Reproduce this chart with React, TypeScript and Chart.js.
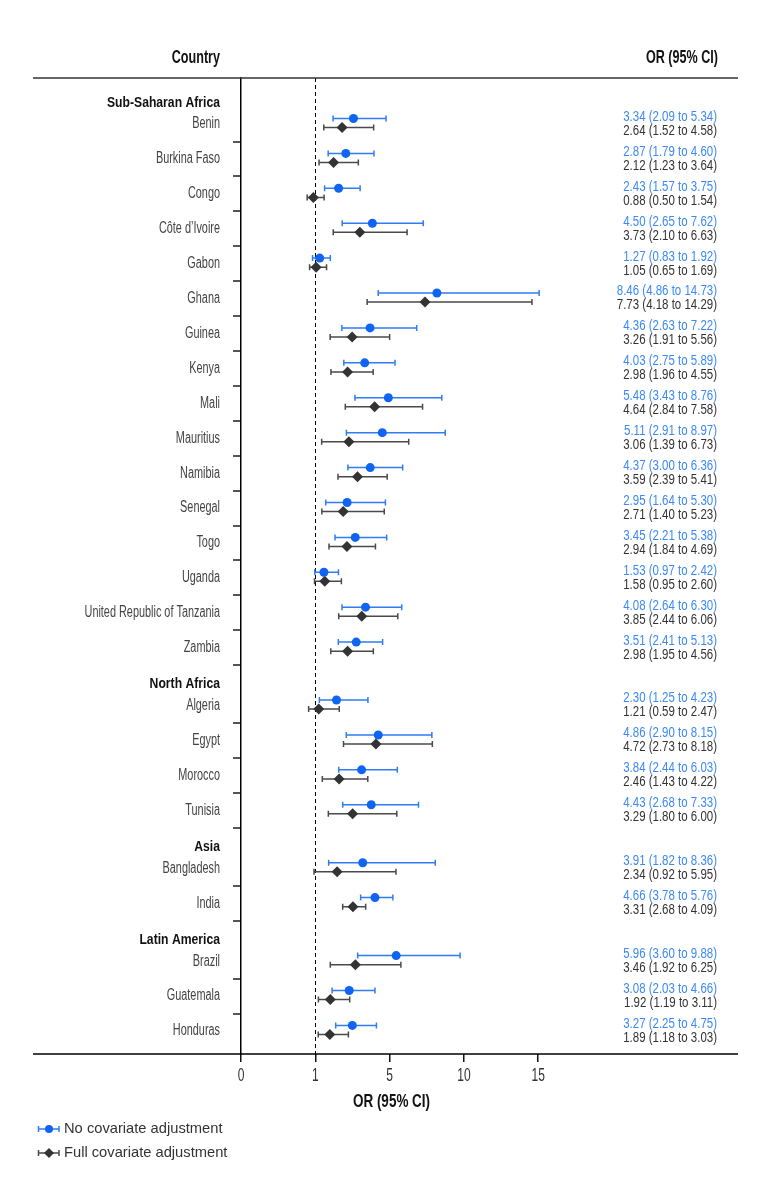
import React, { useEffect, useRef } from 'react';
import { Chart, registerables } from 'chart.js';

Chart.register(...registerables);

// ---------------- data ----------------
const regions = ['Sub-Saharan Africa', 'North Africa', 'Asia', 'Latin America'];
const regionSizes = [16, 4, 2, 3];
const countries = [
  'Benin', 'Burkina Faso', 'Congo', 'Côte d’Ivoire', 'Gabon', 'Ghana', 'Guinea', 'Kenya',
  'Mali', 'Mauritius', 'Namibia', 'Senegal', 'Togo', 'Uganda', 'United Republic of Tanzania', 'Zambia',
  'Algeria', 'Egypt', 'Morocco', 'Tunisia',
  'Bangladesh', 'India',
  'Brazil', 'Guatemala', 'Honduras',
];
const orCrude = [3.34, 2.87, 2.43, 4.50, 1.27, 8.46, 4.36, 4.03, 5.48, 5.11, 4.37, 2.95, 3.45, 1.53, 4.08, 3.51, 2.30, 4.86, 3.84, 4.43, 3.91, 4.66, 5.96, 3.08, 3.27];
const loCrude = [2.09, 1.79, 1.57, 2.65, 0.83, 4.86, 2.63, 2.75, 3.43, 2.91, 3.00, 1.64, 2.21, 0.97, 2.64, 2.41, 1.25, 2.90, 2.44, 2.68, 1.82, 3.78, 3.60, 2.03, 2.25];
const hiCrude = [5.34, 4.60, 3.75, 7.62, 1.92, 14.73, 7.22, 5.89, 8.76, 8.97, 6.36, 5.30, 5.38, 2.42, 6.30, 5.13, 4.23, 8.15, 6.03, 7.33, 8.36, 5.76, 9.88, 4.66, 4.75];
const orAdj = [2.64, 2.12, 0.88, 3.73, 1.05, 7.73, 3.26, 2.98, 4.64, 3.06, 3.59, 2.71, 2.94, 1.58, 3.85, 2.98, 1.21, 4.72, 2.46, 3.29, 2.34, 3.31, 3.46, 1.92, 1.89];
const loAdj = [1.52, 1.23, 0.50, 2.10, 0.65, 4.18, 1.91, 1.96, 2.84, 1.39, 2.39, 1.40, 1.84, 0.95, 2.44, 1.95, 0.59, 2.73, 1.43, 1.80, 0.92, 2.68, 1.92, 1.19, 1.18];
const hiAdj = [4.58, 3.64, 1.54, 6.63, 1.69, 14.29, 5.56, 4.55, 7.58, 6.73, 5.41, 5.23, 4.69, 2.60, 6.06, 4.56, 2.47, 8.18, 4.22, 6.00, 5.95, 4.09, 6.25, 3.11, 3.03];
const tickLabels = ['0', '1', '5', '10', '15'];
const seriesNames = ['No covariate adjustment', 'Full covariate adjustment'];

// ---------------- layout constants ----------------
const HEADER_UNITS = 0.66;
const PAD_UNITS = 0.16;
const TICK_STEP = 4.558; // axis labels are evenly spaced in the original
const X_MIN = 1 - TICK_STEP;
const X_MAX = 26.93;
const BLUE_OFF = -0.16;
const BLACK_OFF = 0.1;

const BLUE = '#0f64f2';
const BLUE_BAR = '#2f7cf4';
const BLUE_TEXT = '#3b8af6';
const DARK = '#333333';
const DARK_BAR = '#4a4a4a';
const LABEL = '#444444';

const SANS = "'Liberation Sans', Arial, sans-serif";

// row positions derived from region sizes
const rowCenters: number[] = [];
const boundaries: number[] = [];
const firstRowOfRegion: number[] = [];
let pos = 0;
regionSizes.forEach((n) => {
  pos += HEADER_UNITS;
  firstRowOfRegion.push(rowCenters.length);
  for (let i = 0; i < n; i++) {
    rowCenters.push(pos + 0.5);
    pos += 1;
    boundaries.push(pos);
  }
});
const TOTAL = pos;
boundaries.pop();

const fmt = (o: number, l: number, h: number) => `${o.toFixed(2)} (${l.toFixed(2)} to ${h.toFixed(2)})`;

function txt(ctx: CanvasRenderingContext2D, s: string, x: number, y: number, font: string, color: string, align: CanvasTextAlign, sx = 1) {
  ctx.save();
  ctx.font = font;
  ctx.fillStyle = color;
  ctx.textBaseline = 'middle';
  ctx.textAlign = align;
  ctx.translate(x, y);
  ctx.scale(sx, 1);
  ctx.fillText(s, 0, 0);
  ctx.restore();
}

function errBar(ctx: CanvasRenderingContext2D, x1: number, x2: number, y: number, color: string) {
  ctx.save();
  ctx.strokeStyle = color;
  ctx.lineWidth = 1.5;
  ctx.beginPath();
  ctx.moveTo(x1, y); ctx.lineTo(x2, y);
  ctx.moveTo(x1, y - 3); ctx.lineTo(x1, y + 3);
  ctx.moveTo(x2, y - 3); ctx.lineTo(x2, y + 3);
  ctx.stroke();
  ctx.restore();
}

const forestPlugin = {
  id: 'forest',
  beforeDatasetsDraw(chart: any) {
    const { ctx, chartArea: a, scales } = chart;
    const x = scales.x, y = scales.y;
    ctx.save();
    ctx.strokeStyle = '#000';
    ctx.lineWidth = 1;
    ctx.setLineDash([4, 3]);
    const xr = Math.round(x.getPixelForValue(1)) + 0.5;
    ctx.beginPath(); ctx.moveTo(xr, a.top); ctx.lineTo(xr, a.bottom); ctx.stroke();
    ctx.restore();
    rowCenters.forEach((c, i) => {
      errBar(ctx, x.getPixelForValue(loCrude[i]), x.getPixelForValue(hiCrude[i]), y.getPixelForValue(c + BLUE_OFF), BLUE_BAR);
      errBar(ctx, x.getPixelForValue(loAdj[i]), x.getPixelForValue(hiAdj[i]), y.getPixelForValue(c + BLACK_OFF), DARK_BAR);
    });
  },
  afterDraw(chart: any) {
    const { ctx, chartArea: a, scales } = chart;
    const x = scales.x, y = scales.y;
    const unit = Math.abs(y.getPixelForValue(1) - y.getPixelForValue(0));
    // horizontal rules
    ctx.save();
    ctx.lineWidth = 1.5;
    ctx.strokeStyle = '#333';
    ctx.beginPath(); ctx.moveTo(33, a.top); ctx.lineTo(a.right, a.top); ctx.stroke();
    ctx.strokeStyle = '#000';
    ctx.beginPath(); ctx.moveTo(33, a.bottom); ctx.lineTo(a.right, a.bottom); ctx.stroke();
    ctx.restore();
    // x tick labels (condensed face, placed at the axis' own ticks)
    x.ticks.forEach((t: any, i: number) => {
      txt(ctx, tickLabels[i], x.getPixelForValue(t.value), a.bottom + 22, `18.5px ${SANS}`, '#333', 'center', 0.65);
    });
    // headers
    txt(ctx, 'Country', 220, 58, `bold 18px ${SANS}`, '#111', 'right', 0.7);
    txt(ctx, 'OR (95% CI)', 718, 58, `bold 18px ${SANS}`, '#111', 'right', 0.7);
    // rows
    rowCenters.forEach((c, i) => {
      const py = y.getPixelForValue(c);
      txt(ctx, countries[i], 220, py, `16px ${SANS}`, LABEL, 'right', 0.68);
      txt(ctx, fmt(orCrude[i], loCrude[i], hiCrude[i]), 717, py - 7, `14px ${SANS}`, BLUE_TEXT, 'right', 0.82);
      txt(ctx, fmt(orAdj[i], loAdj[i], hiAdj[i]), 717, py + 7, `14px ${SANS}`, DARK, 'right', 0.82);
    });
    regions.forEach((r, k) => {
      const py = y.getPixelForValue(rowCenters[firstRowOfRegion[k]]) - 0.62 * unit;
      txt(ctx, r, 220, py, `bold 15.5px ${SANS}`, '#111', 'right', 0.786);
    });
    // axis title
    txt(ctx, 'OR (95% CI)', 391.5, 1102, `bold 19px ${SANS}`, '#111', 'center', 0.71);
    // legend
    const ly = [1129, 1153];
    ly.forEach((yy, k) => {
      const col = k === 0 ? BLUE_BAR : DARK_BAR;
      errBar(ctx, 38.5, 59, yy, col);
      ctx.save();
      ctx.fillStyle = k === 0 ? BLUE : DARK;
      ctx.beginPath();
      if (k === 0) {
        ctx.arc(49, yy, 4, 0, Math.PI * 2);
      } else {
        ctx.moveTo(49, yy - 5); ctx.lineTo(54, yy); ctx.lineTo(49, yy + 5); ctx.lineTo(44, yy);
        ctx.closePath();
      }
      ctx.fill();
      ctx.restore();
      txt(ctx, seriesNames[k], 64, yy, `15px ${SANS}`, '#333', 'left', 0.98);
    });
  },
};

export default function App() {
  const ref = useRef<HTMLCanvasElement>(null);
  useEffect(() => {
    const canvas = ref.current;
    if (!canvas) return;
    const chart = new Chart(canvas, {
      type: 'scatter',
      data: {
        datasets: [
          {
            label: seriesNames[0],
            data: orCrude.map((v, i) => ({ x: v, y: rowCenters[i] + BLUE_OFF })),
            pointStyle: 'circle',
            pointRadius: 4.5,
            backgroundColor: BLUE,
            borderColor: BLUE,
            borderWidth: 0,
          },
          {
            label: seriesNames[1],
            data: orAdj.map((v, i) => ({ x: v, y: rowCenters[i] + BLACK_OFF })),
            pointStyle: 'rectRot',
            pointRadius: 5.5,
            backgroundColor: DARK,
            borderColor: DARK,
            borderWidth: 0,
          },
        ],
      },
      options: {
        responsive: false,
        animation: false,
        devicePixelRatio: 1,
        layout: { padding: { left: 221, right: 33, top: 78, bottom: 88 } },
        plugins: { legend: { display: false }, tooltip: { enabled: false } },
        scales: {
          x: {
            type: 'linear',
            position: 'bottom',
            min: X_MIN,
            max: X_MAX,
            afterBuildTicks: (s: any) => {
              s.ticks = tickLabels.map((_, i) => ({ value: 1 + (i - 1) * TICK_STEP }));
            },
            afterFit: (s: any) => { s.height = 50; },
            ticks: { display: false, autoSkip: false, maxRotation: 0 },
            grid: { drawOnChartArea: false, drawTicks: true, tickLength: 8, color: '#111', lineWidth: 1.5 },
            border: { display: false },
          },
          y: {
            type: 'linear',
            reverse: true,
            min: -PAD_UNITS,
            max: TOTAL + PAD_UNITS,
            afterBuildTicks: (s: any) => {
              s.ticks = boundaries.map((v) => ({ value: v }));
            },
            afterFit: (s: any) => { s.width = 20; },
            ticks: { display: false, autoSkip: false },
            grid: { drawOnChartArea: false, drawTicks: true, tickLength: 8, color: '#555', lineWidth: 2 },
            border: { display: true, color: '#000', width: 1.5 },
          },
        },
      },
      plugins: [forestPlugin],
    } as any);
    return () => chart.destroy();
  }, []);
  return (
    <div style={{ position: 'absolute', left: 0, top: 0, width: 771, height: 1192 }}>
      <canvas ref={ref} width={771} height={1192} style={{ display: 'block' }} />
    </div>
  );
}
